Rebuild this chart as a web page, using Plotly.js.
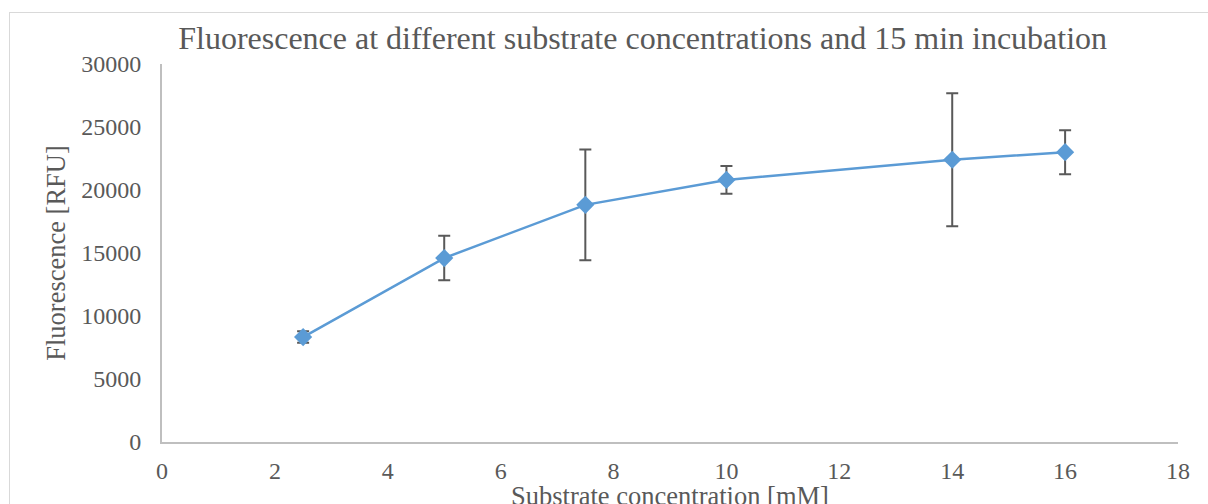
<!DOCTYPE html>
<html>
<head>
<meta charset="utf-8">
<script src="https://cdn.plot.ly/plotly-3.0.1.min.js"></script>
<style>
  html, body { margin: 0; padding: 0; background: #fff; overflow: hidden; }
  #frame { position: absolute; left: 9px; top: 12px; width: 1300px; height: 600px;
           border-left: 1.5px solid #d9d9d9; border-top: 1.5px solid #d9d9d9; pointer-events: none; z-index: 5; }
  #chart { position: absolute; left: 0; top: 0; width: 1208px; height: 504px; }
</style>
</head>
<body>
<div id="chart"></div>
<div id="frame"></div>
<script>
const concentration = [2.5, 5, 7.5, 10, 14, 16];
const fluorescence = [8330, 14600, 18820, 20800, 22400, 23000];
const errorRFU = [460, 1760, 4400, 1100, 5270, 1750];
const xTicks = [0, 2, 4, 6, 8, 10, 12, 14, 16, 18];
const yTicks = [0, 5000, 10000, 15000, 20000, 25000, 30000];
const xTitle = "Substrate concentration [mM]";

const font = '"Liberation Serif", "Times New Roman", serif';
const textColor = "#595959";

const trace = {
  x: concentration,
  y: fluorescence,
  type: "scatter",
  mode: "lines+markers",
  line: { color: "#5b9bd5", width: 2.5 },
  marker: { symbol: "diamond", size: 14, color: "#5b9bd5" },
  error_y: { type: "data", array: errorRFU, visible: true, color: "#595959", thickness: 2, width: 6 },
  hoverinfo: "skip"
};

const layout = {
  width: 1208, height: 504,
  margin: { l: 162, r: 30, t: 64, b: 62 },
  paper_bgcolor: "#fff", plot_bgcolor: "#fff",
  showlegend: false,
  font: { family: font, color: textColor, size: 24 },
  title: {
    text: "Fluorescence at different substrate concentrations and 15 min incubation",
    font: { family: font, size: 32, color: textColor },
    x: 0.532, xanchor: "center", y: 0.925, yanchor: "middle"
  },
  xaxis: {
    range: [0, 18], tickvals: xTicks, ticktext: xTicks.map(String),
    showgrid: false, zeroline: false, showline: true, linecolor: "#bfbfbf", linewidth: 2,
    ticks: "outside", ticklen: 6, tickcolor: "rgba(0,0,0,0)",
    tickfont: { family: font, size: 24, color: textColor },
    automargin: false, fixedrange: true
  },
  yaxis: {
    range: [0, 30000], tickvals: yTicks, ticktext: yTicks.map(String),
    showgrid: false, zeroline: false, showline: true, linecolor: "#bfbfbf", linewidth: 2,
    ticks: "outside", ticklen: 14, tickcolor: "rgba(0,0,0,0)",
    tickfont: { family: font, size: 24, color: textColor },
    title: { text: "Fluorescence [RFU]", font: { family: font, size: 26.5, color: textColor }, standoff: 8 },
    automargin: false, fixedrange: true
  },
  annotations: [{
    text: xTitle, xref: "paper", yref: "paper", x: 0.5, y: -0.142,
    xanchor: "center", yanchor: "middle", showarrow: false,
    font: { family: font, size: 26.5, color: textColor }
  }]
};

Plotly.newPlot("chart", [trace], layout, { staticPlot: true, displayModeBar: false });
</script>
</body>
</html>
